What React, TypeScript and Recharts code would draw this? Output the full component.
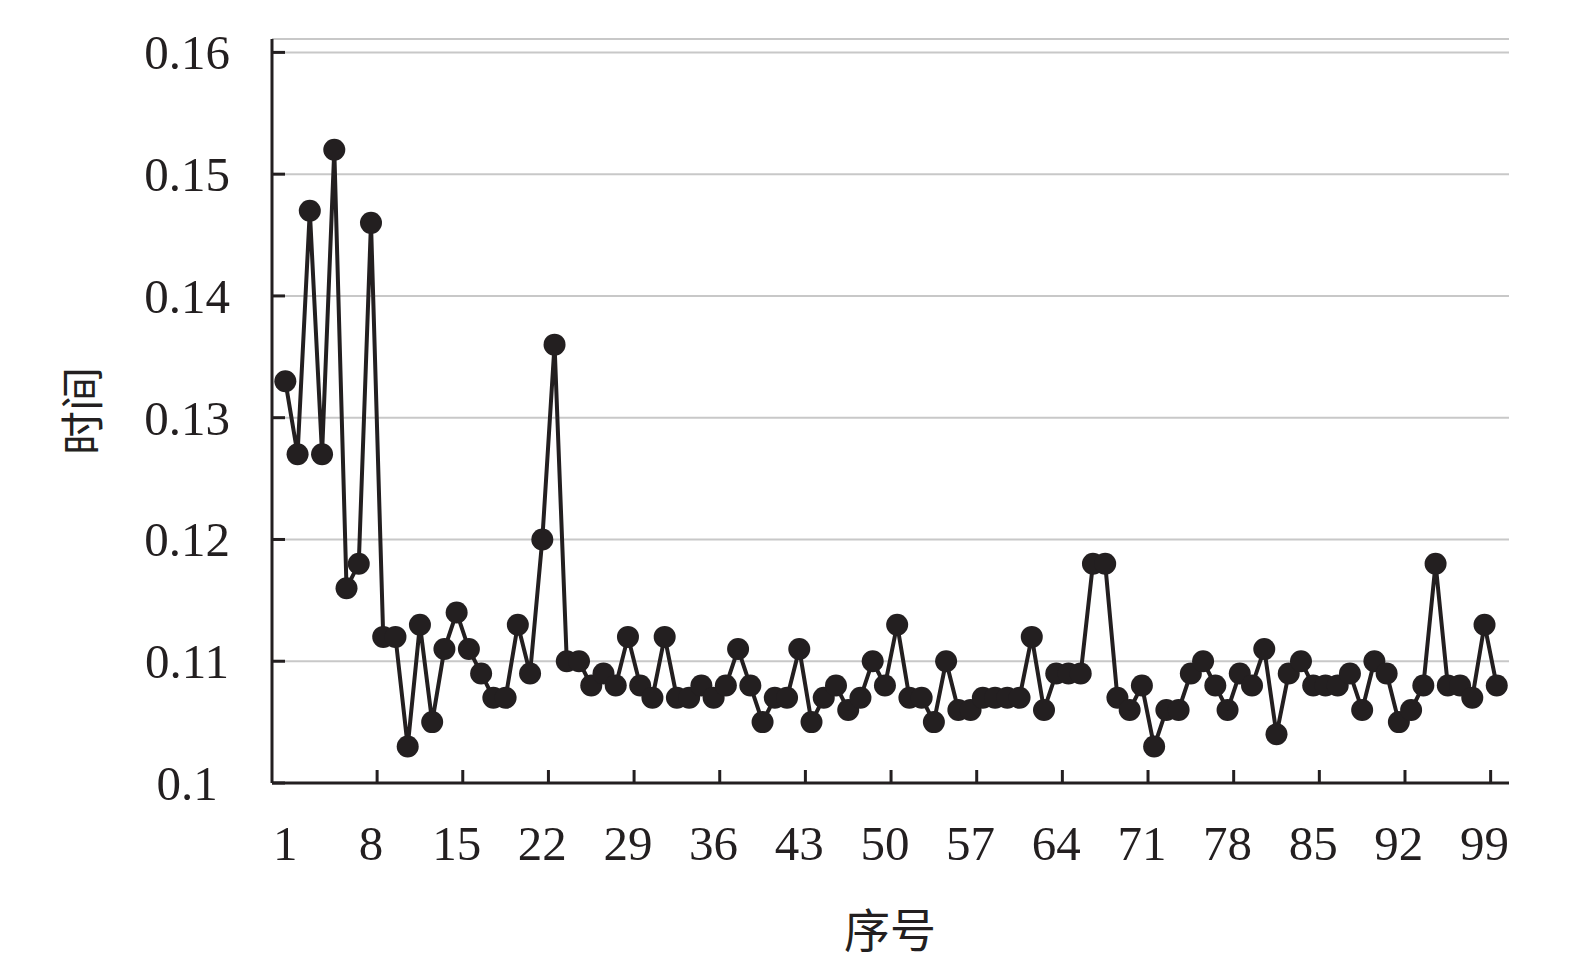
import { LineChart, Line, XAxis, YAxis, CartesianGrid, ReferenceLine, Label } from 'recharts';

// 时间 per sample, samples numbered 1..100 in order
const times = [
  0.133, 0.127, 0.147, 0.127, 0.152, 0.116, 0.118, 0.146, 0.112, 0.112,
  0.103, 0.113, 0.105, 0.111, 0.114, 0.111, 0.109, 0.107, 0.107, 0.113,
  0.109, 0.120, 0.136, 0.110, 0.110, 0.108, 0.109, 0.108, 0.112, 0.108,
  0.107, 0.112, 0.107, 0.107, 0.108, 0.107, 0.108, 0.111, 0.108, 0.105,
  0.107, 0.107, 0.111, 0.105, 0.107, 0.108, 0.106, 0.107, 0.110, 0.108,
  0.113, 0.107, 0.107, 0.105, 0.110, 0.106, 0.106, 0.107, 0.107, 0.107,
  0.107, 0.112, 0.106, 0.109, 0.109, 0.109, 0.118, 0.118, 0.107, 0.106,
  0.108, 0.103, 0.106, 0.106, 0.109, 0.110, 0.108, 0.106, 0.109, 0.108,
  0.111, 0.104, 0.109, 0.110, 0.108, 0.108, 0.108, 0.109, 0.106, 0.110,
  0.109, 0.105, 0.106, 0.108, 0.118, 0.108, 0.108, 0.107, 0.113, 0.108,
];

const xTicks = [1, 8, 15, 22, 29, 36, 43, 50, 57, 64, 71, 78, 85, 92, 99];
const xTickMarks = [8.5, 15.5, 22.5, 29.5, 36.5, 43.5, 50.5, 57.5, 64.5, 71.5, 78.5, 85.5, 92.5, 99.5];
const yTicks = [0.1, 0.11, 0.12, 0.13, 0.14, 0.15, 0.16];

const data = times.map((t, i) => ({ idx: i + 1, time: t }));

const INK = '#231f20';
const SERIF = '"Liberation Serif", "Times New Roman", serif';
const CJK = '"Noto Sans CJK SC", sans-serif';

const XTick = ({ x, payload }: any) => (
  <text x={x} y={852} textAnchor="middle" fontSize={49} fontFamily={SERIF} fill={INK}>
    {payload.value}
  </text>
);

const YTick = ({ y, payload }: any) => (
  <text x={179} y={y + 17} textAnchor="middle" fontSize={49} fontFamily={SERIF} fill={INK}>
    {payload.value}
  </text>
);

const Dot = ({ cx, cy }: any) => {
  if (cx == null || cy == null) return null;
  return <circle cx={cx} cy={cy} r={11} fill={INK} />;
};

export default function App() {
  return (
    <LineChart
      width={1559}
      height={958}
      data={data}
      margin={{ top: 31, right: 58, bottom: 0, left: 0 }}
    >
      <CartesianGrid vertical={false} stroke="#c8c8c8" strokeWidth={2} />
      <XAxis
        dataKey="idx"
        type="number"
        domain={[-0.09, 101]}
        ticks={xTicks}
        interval={0}
        height={183}
        tickLine={false}
        axisLine={{ stroke: INK, strokeWidth: 3 }}
        tick={<XTick />}
      >
        <Label
          content={() => (
            <text x={882} y={939} textAnchor="middle" fontSize={46} fontFamily={CJK} fill={INK}>
              序号
            </text>
          )}
        />
      </XAxis>
      <YAxis
        type="number"
        domain={[0.1, 0.1611]}
        ticks={yTicks}
        interval={0}
        width={264}
        tickSize={-13}
        tickLine={{ stroke: INK, strokeWidth: 3 }}
        axisLine={{ stroke: INK, strokeWidth: 3 }}
        tick={<YTick />}
      >
        <Label
          content={() => (
            <text
              x={72}
              y={403}
              transform="rotate(-90, 72, 403)"
              textAnchor="middle"
              dominantBaseline="central"
              fontSize={44}
              fontFamily={CJK}
              fill={INK}
            >
              时间
            </text>
          )}
        />
      </YAxis>
      {xTickMarks.map((m) => (
        <ReferenceLine
          key={m}
          segment={[{ x: m, y: 0.1 }, { x: m, y: 0.10107 }]}
          stroke={INK}
          strokeWidth={3}
        />
      ))}
      <Line
        type="linear"
        dataKey="time"
        stroke={INK}
        strokeWidth={4}
        dot={<Dot />}
        activeDot={false}
        isAnimationActive={false}
      />
    </LineChart>
  );
}
